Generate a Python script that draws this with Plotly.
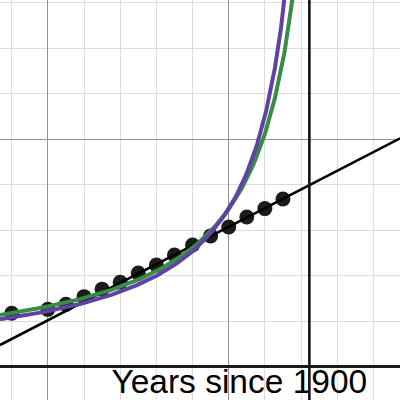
import numpy as np
import plotly.graph_objects as go

# Data: world population (billions) vs years since 1900
years = [40, 50, 55, 60, 65, 70, 75, 80, 85, 90, 95, 100, 105, 110, 115]
population = [2.35, 2.52, 2.74, 3.08, 3.41, 3.71, 4.12, 4.47, 4.91, 5.35, 5.75, 6.14, 6.58, 6.95, 7.37]

# Model parameters
line_slope, line_intercept = 0.0822, -2.07          # linear model
green_C, green_T = 214.0, 130.9                      # y = C / (T - x)
purple_C, purple_T = 188.2, 127.1                    # y = C / (T - x)
marker_x = 122.3                                      # vertical reference line

x_range = [36.77, 147.36]
y_range = [-1.464, 16.12]

fig = go.Figure()

# axis label as text (below plotted lines)
fig.add_trace(go.Scatter(
    x=[138.3], y=[-0.80], mode="text", text=["Years since 1900"],
    textposition="middle left",
    textfont=dict(family="Liberation Sans, Arial, sans-serif", size=33.5, color="#000000"),
    hoverinfo="skip", showlegend=False))

# data points
fig.add_trace(go.Scatter(
    x=years, y=population, mode="markers",
    marker=dict(size=15, color="#1c1c1c", line=dict(width=0)),
    showlegend=False))

# linear model
lx = np.array(x_range)
fig.add_trace(go.Scatter(
    x=lx, y=line_slope * lx + line_intercept, mode="lines",
    line=dict(color="#000000", width=2.5), showlegend=False))

def hyper(C, T):
    x_end = T - C / (y_range[1] + 1.5)
    xs = np.concatenate([np.linspace(x_range[0], x_end - 8, 150), np.linspace(x_end - 8, x_end, 250)])
    return xs, C / (T - xs)

gx, gy = hyper(green_C, green_T)
fig.add_trace(go.Scatter(x=gx, y=gy, mode="lines",
                         line=dict(color="#388c46", width=4), showlegend=False))
px_, py_ = hyper(purple_C, purple_T)
fig.add_trace(go.Scatter(x=px_, y=py_, mode="lines",
                         line=dict(color="#6042a6", width=4), showlegend=False))

# vertical reference line
fig.add_trace(go.Scatter(x=[marker_x, marker_x], y=[y_range[0] - 1, y_range[1] + 1], mode="lines",
                         line=dict(color="#1a1a1a", width=2.7), showlegend=False))

# faint white halo behind the label
fig.add_shape(type="rect", xref="paper", yref="paper",
              x0=110 / 400, x1=372 / 400, y0=0, y1=(400 - 370) / 400,
              fillcolor="rgba(255,255,255,0.6)", line=dict(width=0), layer="between")

fig.update_xaxes(range=x_range, showticklabels=False, ticks="",
                 dtick=50, tick0=0, showgrid=True, gridcolor="#939393", gridwidth=1.3,
                 minor=dict(dtick=10, tick0=0, showgrid=True, gridcolor="#dcdcdc", gridwidth=1.3, ticks=""),
                 zeroline=True, zerolinecolor="#1a1a1a", zerolinewidth=2.7, showline=False)
fig.update_yaxes(range=y_range, showticklabels=False, ticks="",
                 dtick=10, tick0=0, showgrid=True, gridcolor="#939393", gridwidth=1.3,
                 minor=dict(dtick=2, tick0=0, showgrid=True, gridcolor="#dcdcdc", gridwidth=1.3, ticks=""),
                 zeroline=True, zerolinecolor="#1a1a1a", zerolinewidth=2.7, showline=False)

fig.update_layout(width=400, height=400, autosize=False,
                  margin=dict(l=0, r=0, t=0, b=0),
                  paper_bgcolor="white", plot_bgcolor="white", showlegend=False)

fig.write_html("out.html", config={"displayModeBar": False},
               post_script="document.body.style.margin='0';document.body.style.padding='0';document.body.style.overflow='hidden';")
